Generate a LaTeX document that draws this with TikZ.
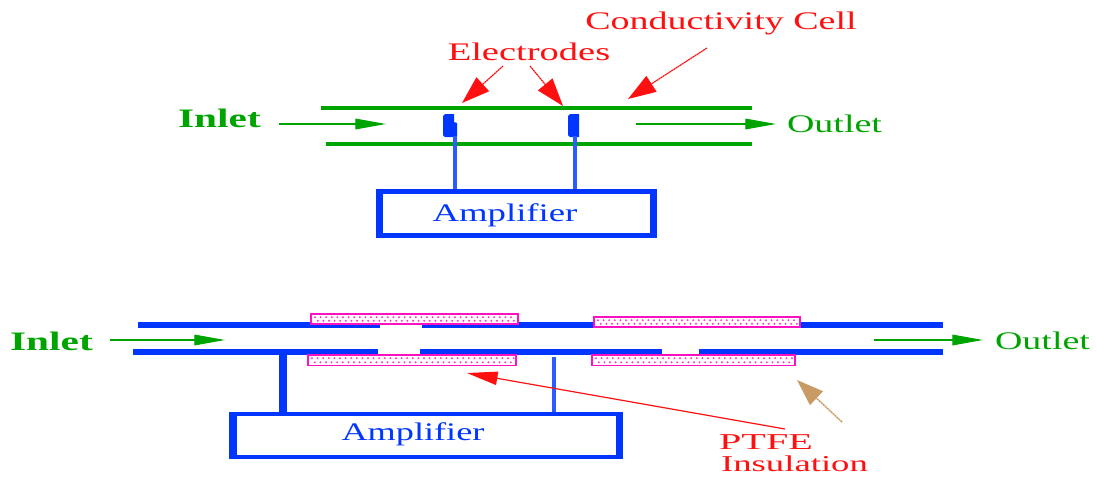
\documentclass[tikz,border=0pt]{standalone}
\usepackage{graphicx}
\usepackage{fontspec}
\setmainfont{Liberation Serif}
\usetikzlibrary{arrows.meta}
\definecolor{pipegreen}{HTML}{00A400}
\definecolor{pipeblue}{HTML}{0036FF}
\definecolor{wireblue}{HTML}{2A5CFF}
\definecolor{labelred}{HTML}{FF1010}
\definecolor{ptfepink}{HTML}{FF10C0}
\definecolor{tanbrown}{HTML}{C89A64}
\newcommand{\stretchtext}[2]{\scalebox{#1}[1]{#2}}
% x0, y0, x1, y1 of one dotted PTFE strip
\newcommand{\ptfestrip}[4]{%
  \path[ptfe] (#1,#2) rectangle (#3,#4);
  \foreach \k in {0,...,36}{%
    \pgfmathsetmacro{\dx}{#1+4+5.6*\k}
    \pgfmathsetmacro{\dy}{#2+3.2}
    \pgfmathparse{\dx<#3-2?1:0}
    \ifnum\pgfmathresult=1 \fill[ptfepink!85] (\dx,\dy) circle (0.8pt); \fi
    \pgfmathsetmacro{\dxb}{\dx+2.8}
    \pgfmathsetmacro{\dyb}{#4-3.2}
    \pgfmathparse{\dxb<#3-2?1:0}
    \ifnum\pgfmathresult=1 \fill[ptfepink!85] (\dxb,\dyb) circle (0.8pt); \fi
  }%
}
\tikzset{
  greenpipe/.style={draw=pipegreen,line width=3pt},
  bluepipe/.style={draw=pipeblue,line width=3.9pt},
  flowarrow/.style={draw=pipegreen,line width=0.9pt,-{Triangle[length=23pt,width=8pt,fill=pipegreen]}},
  redarrow/.style={draw=labelred,line width=0.9pt,dash pattern=on 1.5pt off 0.4pt,-{Triangle[length=21pt,width=14pt,fill=labelred]}},
  redthin/.style={draw=labelred,line width=0.9pt,-{Triangle[length=23pt,width=10pt,fill=labelred]}},
  tanarrow/.style={draw=tanbrown,line width=1.1pt,dash pattern=on 1.5pt off 0.5pt,-{Triangle[length=20pt,width=14pt,fill=tanbrown]}},
  wire/.style={draw=wireblue,line width=2.6pt},
  thinwire/.style={draw=wireblue,line width=2.3pt},
  thickwire/.style={draw=pipeblue,line width=6pt},
  ptfe/.style={draw=ptfepink,line width=1.4pt,fill=white},
  electrode/.style={fill=pipeblue,draw=none},
  redlabel/.style={text=labelred,font=\fontsize{19}{19}\selectfont,inner sep=0pt},
  ptfelabel/.style={text=labelred,font=\fontsize{17}{17}\selectfont,inner sep=0pt},
  greenlabel/.style={text=pipegreen,font=\fontsize{19}{19}\selectfont,inner sep=0pt},
  inletlabel/.style={text=pipegreen,font=\fontsize{20}{20}\selectfont\bfseries,inner sep=0pt},
  bluelabel/.style={text=pipeblue,font=\fontsize{19}{19}\selectfont,inner sep=0pt},
}
\begin{document}
\begin{tikzpicture}[x=0.75pt,y=-0.75pt]
\useasboundingbox (0,0) rectangle (1097,476);
% ---------- upper cell ----------
\coordinate (tl) at (321,108); \coordinate (tr) at (752,108);
\coordinate (bl) at (326,144); \coordinate (br) at (752,144);
\draw[greenpipe] (tl) -- (tr);
\draw[greenpipe] (bl) -- (br);
\path[electrode] (443,116) -- (445,114) -- (454,114) -- (454,122) -- (457,123) -- (457,137) -- (445,137) -- (443,135) -- cycle;
\path[electrode] (568,116) -- (570,114) -- (579,114) -- (579,137) -- (570,137) -- (568,135) -- cycle;
\node[fill=pipeblue,inner sep=0pt,minimum width=210.75pt,minimum height=36.75pt] (ampA) at (516.5,213.5) {};
\node[fill=white,inner sep=0pt,minimum width=200.25pt,minimum height=29.25pt] (ampAin) at (516.5,213.5) {};
\node[bluelabel] (ampAtext) at (505,215) {\stretchtext{1.45}{Amplifier}};
\coordinate (e1) at (455,136); \coordinate (e2) at (575,136);
\draw[wire] (e1) -- (e1 |- ampA.north);
\draw[wire] (e2) -- (e2 |- ampA.north);
% flows
\node[inletlabel] (inA) at (219.5,118) {\stretchtext{1.55}{Inlet}};
\node[greenlabel] (outA) at (834.5,124) {\stretchtext{1.5}{Outlet}};
\coordinate (fa1) at (279,124); \coordinate (fa2) at (386,124);
\coordinate (fb1) at (636,124); \coordinate (fb2) at (776,124);
\draw[flowarrow] (fa1) -- (fa2);
\draw[flowarrow] (fb1) -- (fb2);
% labels
\node[redlabel] (cond) at (721,23.5) {\stretchtext{1.5}{Conductivity Cell}};
\node[redlabel] (elec) at (529,52) {\stretchtext{1.52}{Electrodes}};
\coordinate (ea) at (503,66); \coordinate (eat) at (462,103);
\coordinate (eb) at (530,66); \coordinate (ebt) at (563,106);
\coordinate (ca) at (707,48); \coordinate (cat) at (628,99);
\draw[redarrow] (ea) -- (eat);
\draw[redarrow] (eb) -- (ebt);
\draw[redarrow] (ca) -- (cat);
% ---------- lower cell ----------
\draw[bluepipe] (138,325) -- (380,325);
\draw[bluepipe] (422,325) -- (943,325);
\draw[bluepipe] (133,352) -- (378,352);
\draw[bluepipe] (420,352) -- (662,352);
\draw[bluepipe] (699,352) -- (943,352);
\ptfestrip{311}{314}{518}{324}
\ptfestrip{594}{317}{800}{327}
\ptfestrip{308}{355}{516}{365.5}
\ptfestrip{592}{355}{795}{365.5}
\node[fill=pipeblue,inner sep=0pt,minimum width=295.5pt,minimum height=35.25pt] (ampB) at (426,435.5) {};
\node[fill=white,inner sep=0pt,minimum width=284.25pt,minimum height=29.25pt] (ampBin) at (426,435.5) {};
\node[bluelabel] (ampBtext) at (413,434.5) {\stretchtext{1.43}{Amplifier}};
\coordinate (w1) at (283,352); \coordinate (w2) at (554,357);
\draw[thickwire] (w1) -- (w1 |- ampB.north);
\draw[thinwire] (w2) -- (w2 |- ampB.north);
\node[inletlabel] (inB) at (51.5,341) {\stretchtext{1.55}{Inlet}};
\node[greenlabel] (outB) at (1042.5,341) {\stretchtext{1.5}{Outlet}};
\coordinate (fc1) at (110,340); \coordinate (fc2) at (225,340);
\coordinate (fd1) at (874,340); \coordinate (fd2) at (983,340);
\draw[flowarrow] (fc1) -- (fc2);
\draw[flowarrow] (fd1) -- (fd2);
\node[ptfelabel] (ptfeA) at (766,442) {\stretchtext{1.77}{PTFE}};
\node[ptfelabel] (ptfeB) at (794.5,464) {\stretchtext{1.62}{Insulation}};
\coordinate (ra) at (785,429); \coordinate (rat) at (467,373);
\draw[redthin] (ra) -- (rat);
\coordinate (ta) at (842,422); \coordinate (tat) at (797,380);
\draw[tanarrow] (ta) -- (tat);
\end{tikzpicture}
\end{document}
